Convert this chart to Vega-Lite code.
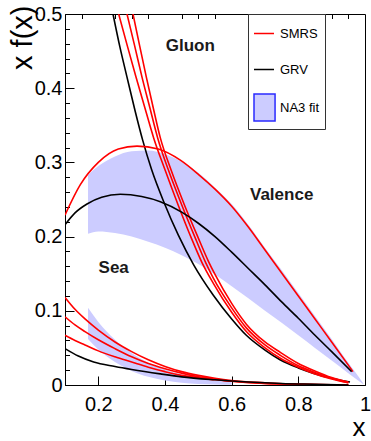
{
  "$schema": "https://vega.github.io/schema/vega-lite/v6.json",
  "width": 300,
  "height": 371,
  "autosize": {"type": "none"},
  "padding": {"left": 65, "top": 14, "right": 6, "bottom": 56},
  "background": "white",
  "config": {
    "view": {"stroke": "#000000", "strokeWidth": 1},
    "font": "Liberation Sans",
    "legend": {
      "orient": "none", "legendX": 183, "legendY": 0, "padding": 5, "rowPadding": 14,
      "symbolSize": 729, "labelFontSize": 13, "labelOffset": -2, "labelFont": "Liberation Sans",
      "labelColor": "#000000", "strokeColor": "#333333", "fillColor": "white", "symbolStrokeWidth": 1.5
    }
  },
  "datasets": {
    "curves": [
      {"c":"g_grv","m":"GRV","x":0.244,"y":0.5},{"c":"g_grv","m":"GRV","x":0.265,"y":0.455},{"c":"g_grv","m":"GRV","x":0.286,"y":0.415},{"c":"g_grv","m":"GRV","x":0.31,"y":0.37},{"c":"g_grv","m":"GRV","x":0.333,"y":0.33},{"c":"g_grv","m":"GRV","x":0.36,"y":0.29},{"c":"g_grv","m":"GRV","x":0.398,"y":0.245},{"c":"g_grv","m":"GRV","x":0.44,"y":0.202},{"c":"g_grv","m":"GRV","x":0.486,"y":0.162},{"c":"g_grv","m":"GRV","x":0.545,"y":0.121},{"c":"g_grv","m":"GRV","x":0.6,"y":0.089},{"c":"g_grv","m":"GRV","x":0.644,"y":0.067},{"c":"g_grv","m":"GRV","x":0.7,"y":0.047},{"c":"g_grv","m":"GRV","x":0.745,"y":0.034},{"c":"g_grv","m":"GRV","x":0.8,"y":0.023},{"c":"g_grv","m":"GRV","x":0.844,"y":0.016},{"c":"g_grv","m":"GRV","x":0.9,"y":0.009},{"c":"g_grv","m":"GRV","x":0.955,"y":0.004},
      {"c":"g_s1","m":"SMRS","x":0.261,"y":0.5},{"c":"g_s1","m":"SMRS","x":0.287,"y":0.457},{"c":"g_s1","m":"SMRS","x":0.313,"y":0.415},{"c":"g_s1","m":"SMRS","x":0.34,"y":0.373},{"c":"g_s1","m":"SMRS","x":0.366,"y":0.333},{"c":"g_s1","m":"SMRS","x":0.4,"y":0.29},{"c":"g_s1","m":"SMRS","x":0.44,"y":0.242},{"c":"g_s1","m":"SMRS","x":0.48,"y":0.197},{"c":"g_s1","m":"SMRS","x":0.511,"y":0.165},{"c":"g_s1","m":"SMRS","x":0.545,"y":0.137},{"c":"g_s1","m":"SMRS","x":0.6,"y":0.098},{"c":"g_s1","m":"SMRS","x":0.644,"y":0.072},{"c":"g_s1","m":"SMRS","x":0.7,"y":0.05},{"c":"g_s1","m":"SMRS","x":0.746,"y":0.036},{"c":"g_s1","m":"SMRS","x":0.8,"y":0.024},{"c":"g_s1","m":"SMRS","x":0.844,"y":0.016},{"c":"g_s1","m":"SMRS","x":0.9,"y":0.008},{"c":"g_s1","m":"SMRS","x":0.95,"y":0.003},
      {"c":"g_s2","m":"SMRS","x":0.286,"y":0.5},{"c":"g_s2","m":"SMRS","x":0.309,"y":0.457},{"c":"g_s2","m":"SMRS","x":0.331,"y":0.415},{"c":"g_s2","m":"SMRS","x":0.355,"y":0.373},{"c":"g_s2","m":"SMRS","x":0.378,"y":0.333},{"c":"g_s2","m":"SMRS","x":0.41,"y":0.29},{"c":"g_s2","m":"SMRS","x":0.45,"y":0.243},{"c":"g_s2","m":"SMRS","x":0.49,"y":0.199},{"c":"g_s2","m":"SMRS","x":0.521,"y":0.166},{"c":"g_s2","m":"SMRS","x":0.545,"y":0.144},{"c":"g_s2","m":"SMRS","x":0.6,"y":0.104},{"c":"g_s2","m":"SMRS","x":0.644,"y":0.077},{"c":"g_s2","m":"SMRS","x":0.7,"y":0.054},{"c":"g_s2","m":"SMRS","x":0.746,"y":0.04},{"c":"g_s2","m":"SMRS","x":0.8,"y":0.026},{"c":"g_s2","m":"SMRS","x":0.844,"y":0.018},{"c":"g_s2","m":"SMRS","x":0.9,"y":0.009},{"c":"g_s2","m":"SMRS","x":0.95,"y":0.003},
      {"c":"g_s3","m":"SMRS","x":0.304,"y":0.5},{"c":"g_s3","m":"SMRS","x":0.324,"y":0.457},{"c":"g_s3","m":"SMRS","x":0.344,"y":0.415},{"c":"g_s3","m":"SMRS","x":0.365,"y":0.373},{"c":"g_s3","m":"SMRS","x":0.386,"y":0.333},{"c":"g_s3","m":"SMRS","x":0.418,"y":0.29},{"c":"g_s3","m":"SMRS","x":0.458,"y":0.243},{"c":"g_s3","m":"SMRS","x":0.5,"y":0.198},{"c":"g_s3","m":"SMRS","x":0.531,"y":0.166},{"c":"g_s3","m":"SMRS","x":0.55,"y":0.149},{"c":"g_s3","m":"SMRS","x":0.6,"y":0.11},{"c":"g_s3","m":"SMRS","x":0.644,"y":0.082},{"c":"g_s3","m":"SMRS","x":0.7,"y":0.058},{"c":"g_s3","m":"SMRS","x":0.746,"y":0.044},{"c":"g_s3","m":"SMRS","x":0.8,"y":0.029},{"c":"g_s3","m":"SMRS","x":0.844,"y":0.02},{"c":"g_s3","m":"SMRS","x":0.9,"y":0.01},{"c":"g_s3","m":"SMRS","x":0.95,"y":0.004},
      {"c":"v_s","m":"SMRS","x":0.1,"y":0.229},{"c":"v_s","m":"SMRS","x":0.146,"y":0.27},{"c":"v_s","m":"SMRS","x":0.2,"y":0.3},{"c":"v_s","m":"SMRS","x":0.26,"y":0.318},{"c":"v_s","m":"SMRS","x":0.316,"y":0.322},{"c":"v_s","m":"SMRS","x":0.38,"y":0.318},{"c":"v_s","m":"SMRS","x":0.446,"y":0.303},{"c":"v_s","m":"SMRS","x":0.5,"y":0.284},{"c":"v_s","m":"SMRS","x":0.55,"y":0.264},{"c":"v_s","m":"SMRS","x":0.6,"y":0.241},{"c":"v_s","m":"SMRS","x":0.65,"y":0.213},{"c":"v_s","m":"SMRS","x":0.7,"y":0.182},{"c":"v_s","m":"SMRS","x":0.75,"y":0.151},{"c":"v_s","m":"SMRS","x":0.8,"y":0.12},{"c":"v_s","m":"SMRS","x":0.85,"y":0.089},{"c":"v_s","m":"SMRS","x":0.9,"y":0.058},{"c":"v_s","m":"SMRS","x":0.964,"y":0.018},
      {"c":"v_g","m":"GRV","x":0.1,"y":0.216},{"c":"v_g","m":"GRV","x":0.13,"y":0.232},{"c":"v_g","m":"GRV","x":0.166,"y":0.244},{"c":"v_g","m":"GRV","x":0.21,"y":0.253},{"c":"v_g","m":"GRV","x":0.266,"y":0.257},{"c":"v_g","m":"GRV","x":0.33,"y":0.254},{"c":"v_g","m":"GRV","x":0.386,"y":0.247},{"c":"v_g","m":"GRV","x":0.45,"y":0.233},{"c":"v_g","m":"GRV","x":0.5,"y":0.218},{"c":"v_g","m":"GRV","x":0.55,"y":0.2},{"c":"v_g","m":"GRV","x":0.6,"y":0.179},{"c":"v_g","m":"GRV","x":0.65,"y":0.157},{"c":"v_g","m":"GRV","x":0.7,"y":0.135},{"c":"v_g","m":"GRV","x":0.75,"y":0.112},{"c":"v_g","m":"GRV","x":0.8,"y":0.09},{"c":"v_g","m":"GRV","x":0.85,"y":0.067},{"c":"v_g","m":"GRV","x":0.9,"y":0.045},{"c":"v_g","m":"GRV","x":0.96,"y":0.018},
      {"c":"s_s1","m":"SMRS","x":0.1,"y":0.118},{"c":"s_s1","m":"SMRS","x":0.13,"y":0.102},{"c":"s_s1","m":"SMRS","x":0.16,"y":0.089},{"c":"s_s1","m":"SMRS","x":0.2,"y":0.074},{"c":"s_s1","m":"SMRS","x":0.25,"y":0.058},{"c":"s_s1","m":"SMRS","x":0.3,"y":0.045},{"c":"s_s1","m":"SMRS","x":0.35,"y":0.034},{"c":"s_s1","m":"SMRS","x":0.4,"y":0.025},{"c":"s_s1","m":"SMRS","x":0.45,"y":0.018},{"c":"s_s1","m":"SMRS","x":0.5,"y":0.013},{"c":"s_s1","m":"SMRS","x":0.55,"y":0.009},{"c":"s_s1","m":"SMRS","x":0.6,"y":0.006},{"c":"s_s1","m":"SMRS","x":0.7,"y":0.003},{"c":"s_s1","m":"SMRS","x":0.8,"y":0.001},{"c":"s_s1","m":"SMRS","x":0.95,"y":0.0},
      {"c":"s_s2","m":"SMRS","x":0.1,"y":0.092},{"c":"s_s2","m":"SMRS","x":0.13,"y":0.081},{"c":"s_s2","m":"SMRS","x":0.16,"y":0.072},{"c":"s_s2","m":"SMRS","x":0.2,"y":0.061},{"c":"s_s2","m":"SMRS","x":0.25,"y":0.049},{"c":"s_s2","m":"SMRS","x":0.3,"y":0.038},{"c":"s_s2","m":"SMRS","x":0.35,"y":0.029},{"c":"s_s2","m":"SMRS","x":0.4,"y":0.022},{"c":"s_s2","m":"SMRS","x":0.45,"y":0.016},{"c":"s_s2","m":"SMRS","x":0.5,"y":0.011},{"c":"s_s2","m":"SMRS","x":0.55,"y":0.008},{"c":"s_s2","m":"SMRS","x":0.6,"y":0.005},{"c":"s_s2","m":"SMRS","x":0.7,"y":0.002},{"c":"s_s2","m":"SMRS","x":0.8,"y":0.001},{"c":"s_s2","m":"SMRS","x":0.95,"y":0.0},
      {"c":"s_s3","m":"SMRS","x":0.1,"y":0.067},{"c":"s_s3","m":"SMRS","x":0.13,"y":0.06},{"c":"s_s3","m":"SMRS","x":0.16,"y":0.054},{"c":"s_s3","m":"SMRS","x":0.2,"y":0.046},{"c":"s_s3","m":"SMRS","x":0.25,"y":0.038},{"c":"s_s3","m":"SMRS","x":0.3,"y":0.031},{"c":"s_s3","m":"SMRS","x":0.35,"y":0.024},{"c":"s_s3","m":"SMRS","x":0.4,"y":0.018},{"c":"s_s3","m":"SMRS","x":0.45,"y":0.013},{"c":"s_s3","m":"SMRS","x":0.5,"y":0.01},{"c":"s_s3","m":"SMRS","x":0.55,"y":0.007},{"c":"s_s3","m":"SMRS","x":0.6,"y":0.005},{"c":"s_s3","m":"SMRS","x":0.7,"y":0.002},{"c":"s_s3","m":"SMRS","x":0.8,"y":0.001},{"c":"s_s3","m":"SMRS","x":0.95,"y":0.0},
      {"c":"s_g","m":"GRV","x":0.1,"y":0.049},{"c":"s_g","m":"GRV","x":0.14,"y":0.039},{"c":"s_g","m":"GRV","x":0.186,"y":0.031},{"c":"s_g","m":"GRV","x":0.25,"y":0.025},{"c":"s_g","m":"GRV","x":0.3,"y":0.021},{"c":"s_g","m":"GRV","x":0.386,"y":0.015},{"c":"s_g","m":"GRV","x":0.45,"y":0.011},{"c":"s_g","m":"GRV","x":0.55,"y":0.007},{"c":"s_g","m":"GRV","x":0.65,"y":0.004},{"c":"s_g","m":"GRV","x":0.75,"y":0.002},{"c":"s_g","m":"GRV","x":0.85,"y":0.001},{"c":"s_g","m":"GRV","x":0.95,"y":0.0}
    ],
    "bands": [
      {"b":"val","x":0.169,"lo":0.204,"hi":0.283},{"b":"val","x":0.2,"lo":0.207,"hi":0.295},{"b":"val","x":0.25,"lo":0.205,"hi":0.308},{"b":"val","x":0.3,"lo":0.2,"hi":0.315},{"b":"val","x":0.35,"lo":0.193,"hi":0.316},{"b":"val","x":0.4,"lo":0.185,"hi":0.311},{"b":"val","x":0.45,"lo":0.175,"hi":0.301},{"b":"val","x":0.5,"lo":0.163,"hi":0.286},{"b":"val","x":0.55,"lo":0.149,"hi":0.266},{"b":"val","x":0.6,"lo":0.133,"hi":0.244},{"b":"val","x":0.65,"lo":0.117,"hi":0.216},{"b":"val","x":0.7,"lo":0.1,"hi":0.185},{"b":"val","x":0.75,"lo":0.084,"hi":0.155},{"b":"val","x":0.8,"lo":0.067,"hi":0.124},{"b":"val","x":0.85,"lo":0.05,"hi":0.093},{"b":"val","x":0.9,"lo":0.033,"hi":0.062},{"b":"val","x":0.95,"lo":0.016,"hi":0.03},{"b":"val","x":0.97,"lo":0.009,"hi":0.018},{"b":"val","x":0.995,"lo":0.001,"hi":0.002},
      {"b":"sea","x":0.169,"lo":0.062,"hi":0.104},{"b":"sea","x":0.2,"lo":0.048,"hi":0.085},{"b":"sea","x":0.25,"lo":0.031,"hi":0.061},{"b":"sea","x":0.3,"lo":0.019,"hi":0.043},{"b":"sea","x":0.35,"lo":0.011,"hi":0.03},{"b":"sea","x":0.4,"lo":0.006,"hi":0.021},{"b":"sea","x":0.45,"lo":0.003,"hi":0.014},{"b":"sea","x":0.5,"lo":0.0015,"hi":0.009},{"b":"sea","x":0.55,"lo":0.0008,"hi":0.006},{"b":"sea","x":0.6,"lo":0.0003,"hi":0.004}
    ],
    "labels": [
      {"t":"Gluon","x":0.476,"y":0.45},
      {"t":"Valence","x":0.75,"y":0.249},
      {"t":"Sea","x":0.246,"y":0.151}
    ]
  },
  "layer": [
    {
      "data": {"name": "bands"},
      "mark": {"type": "area", "interpolate": "monotone", "clip": true, "fill": "#ccccff"},
      "encoding": {
        "x": {"field": "x", "type": "quantitative", "scale": {"domain": [0.1, 1], "nice": false, "zero": false},
          "axis": {"values": [0.2, 0.4, 0.6, 0.8, 1], "format": "~g", "tickSize": -9, "tickColor": "#000000", "domainColor": "#000000", "labelFontSize": 20, "labelPadding": 18, "labelFlush": false, "labelOverlap": false, "labelColor": "#000000", "labelFont": "Liberation Sans", "grid": false,
            "title": "x", "titleFontSize": 26, "titleFontWeight": "normal", "titleFont": "Liberation Sans", "titleAnchor": "end", "titleAlign": "right", "titleBaseline": "alphabetic", "titleX": 300, "titleY": 50, "titleColor": "#000000"}},
        "y": {"field": "hi", "type": "quantitative", "scale": {"domain": [0, 0.5], "nice": false, "zero": false},
          "axis": {"values": [0, 0.1, 0.2, 0.3, 0.4, 0.5], "format": "~g", "orient": "left", "tickSize": -9, "tickColor": "#000000", "domainColor": "#000000", "labelFontSize": 20, "labelPadding": 12, "labelFlush": false, "labelOverlap": false, "labelColor": "#000000", "labelFont": "Liberation Sans", "grid": false,
            "title": "x f(x)", "titleFontSize": 29, "titleFontWeight": "normal", "titleFont": "Liberation Sans", "titleAngle": 270, "titleAlign": "right", "titleBaseline": "alphabetic", "titleX": -34, "titleY": -9, "titleColor": "#000000"}},
        "y2": {"field": "lo"},
        "detail": {"field": "b"}
      }
    },
    {
      "data": {"name": "curves"},
      "mark": {"type": "line", "interpolate": "monotone", "strokeWidth": 1.6, "clip": true},
      "encoding": {
        "x": {"field": "x", "type": "quantitative", "scale": {"domain": [0.1, 1], "nice": false, "zero": false},
          "axis": {"values": [0.15, 0.25, 0.3, 0.35, 0.45, 0.5, 0.55, 0.65, 0.7, 0.75, 0.85, 0.9, 0.95], "tickSize": -4.5, "tickColor": "#000000", "labels": false, "domain": false, "grid": false, "title": null}},
        "y": {"field": "y", "type": "quantitative", "scale": {"domain": [0, 0.5], "nice": false, "zero": false},
          "axis": {"orient": "left", "values": [0.02, 0.04, 0.06, 0.08, 0.12, 0.14, 0.16, 0.18, 0.22, 0.24, 0.26, 0.28, 0.32, 0.34, 0.36, 0.38, 0.42, 0.44, 0.46, 0.48], "tickSize": -4.5, "tickColor": "#000000", "labels": false, "domain": false, "grid": false, "title": null}},
        "detail": {"field": "c"},
        "color": {"field": "m", "type": "nominal",
          "scale": {"domain": ["SMRS", "GRV", "NA3 fit"], "range": ["#ff0000", "#000000", "#2a2aff"]},
          "legend": {"title": "\u00a0\u00a0\u00a0\u00a0\u00a0\u00a0\u00a0\u00a0\u00a0\u00a0\u00a0\u00a0", "titleOrient": "right", "titleFontSize": 13, "titlePadding": 0, "encode": {"symbols": {"update": {
            "shape": {"signal": "datum.value === 'NA3 fit' ? 'M-1,-1H0.56V1H-1Z' : 'M-1,0H0.48'"},
            "fill": {"signal": "datum.value === 'NA3 fit' ? '#ccccff' : 'transparent'"},
            "strokeWidth": {"value": 1.5},
            "opacity": {"value": 1},
            "fillOpacity": {"value": 1},
            "strokeOpacity": {"value": 1}}}}}}
      }
    },
    {
      "data": {"name": "labels"},
      "mark": {"type": "text", "fontWeight": "bold", "fontSize": 17, "font": "Liberation Sans", "align": "center", "baseline": "alphabetic", "color": "#1a1a1a"},
      "encoding": {
        "x": {"field": "x", "type": "quantitative", "axis": null},
        "y": {"field": "y", "type": "quantitative", "axis": null},
        "text": {"field": "t"}
      }
    }
  ],
  "resolve": {"axis": {"x": "independent", "y": "independent"}}
}
